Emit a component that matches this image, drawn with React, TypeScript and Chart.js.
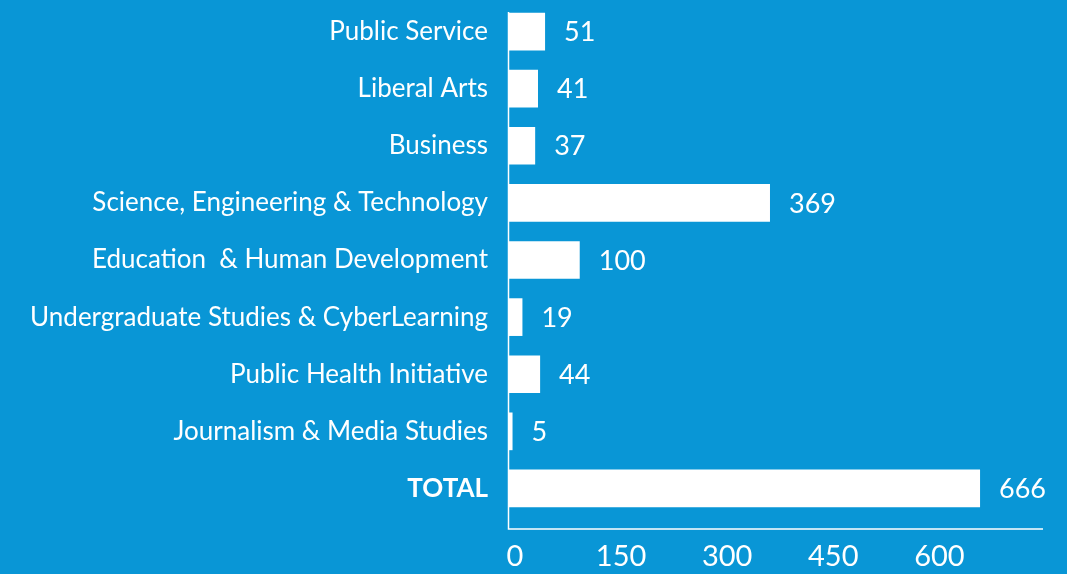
import { useEffect, useRef } from 'react';
import { Chart, registerables } from 'chart.js';

Chart.register(...registerables);

const categories = [
  'Public Service',
  'Liberal Arts',
  'Business',
  'Science, Engineering & Technology',
  'Education  & Human Development',
  'Undergraduate Studies & CyberLearning',
  'Public Health Initiative',
  'Journalism & Media Studies',
  'TOTAL',
];
const values = [51, 41, 37, 369, 100, 19, 44, 5, 666];
const xTickValues = [0, 150, 300, 450, 600];
const xMax = 755;

const BG = '#0996d6';
const FONT = 'Lato, "Open Sans", sans-serif';

const valueLabelPlugin = {
  id: 'valueLabels',
  afterDatasetsDraw(chart: any) {
    const { ctx } = chart;
    const meta = chart.getDatasetMeta(0);
    ctx.save();
    ctx.fillStyle = '#ffffff';
    ctx.font = `400 27px ${FONT}`;
    ctx.textAlign = 'left';
    ctx.textBaseline = 'middle';
    meta.data.forEach((bar: any, i: number) => {
      ctx.fillText(String(values[i]), bar.x + 19, bar.y + 1);
    });
    ctx.restore();
  },
};

const axisLinePlugin = {
  id: 'axisLines',
  afterDatasetsDraw(chart: any) {
    const { ctx, chartArea, scales } = chart;
    const x0 = scales.x.getPixelForValue(0) - 0.5;
    const bottom = chartArea.bottom + 12;
    ctx.save();
    ctx.strokeStyle = '#ffffff';
    ctx.lineWidth = 1.5;
    ctx.beginPath();
    ctx.moveTo(x0, chartArea.top + 9);
    ctx.lineTo(x0, bottom);
    ctx.lineTo(chartArea.right, bottom);
    ctx.stroke();
    ctx.restore();
  },
};

export default function App() {
  const canvasRef = useRef<HTMLCanvasElement | null>(null);

  useEffect(() => {
    if (!canvasRef.current) return;
    const chart = new Chart(canvasRef.current, {
      type: 'bar',
      data: {
        labels: categories,
        datasets: [
          {
            data: values,
            backgroundColor: '#ffffff',
            borderWidth: 0,
            categoryPercentage: 1,
            barPercentage: 0.66,
          },
        ],
      },
      options: {
        indexAxis: 'y',
        responsive: false,
        animation: false,
        layout: { padding: { top: 3, right: 24, left: 0, bottom: 0 } },
        plugins: {
          legend: { display: false },
          tooltip: { enabled: false },
        },
        scales: {
          x: {
            type: 'linear',
            min: 0,
            max: xMax,
            position: 'bottom',
            grid: { display: false, drawTicks: false },
            border: { display: false },
            afterBuildTicks: (s: any) => {
              s.ticks = xTickValues.map((v) => ({ value: v }));
            },
            afterFit: (s: any) => {
              s.height = 57;
            },
            ticks: {
              color: '#ffffff',
              font: { family: FONT, size: 29 },
              padding: 22,
              labelOffset: 6,
              maxRotation: 0,
              autoSkip: false,
            },
          },
          y: {
            grid: { display: false, drawTicks: false },
            border: { display: false },
            afterFit: (s: any) => {
              s.width = 509;
              s.paddingTop = 0;
              s.paddingBottom = 0;
            },
            ticks: {
              color: '#ffffff',
              padding: 21,
              autoSkip: false,
              font: (ctx: any) => ({
                family: FONT,
                size: 26,
                weight: ctx.index === categories.length - 1 ? 'bold' : 'normal',
              }),
            },
          },
        },
      },
      plugins: [valueLabelPlugin, axisLinePlugin],
    } as any);
    return () => chart.destroy();
  }, []);

  return (
    <div
      style={{
        position: 'fixed',
        left: 0,
        top: 0,
        width: 1067,
        height: 574,
        background: BG,
      }}
    >
      <canvas ref={canvasRef} width={1067} height={574} style={{ display: 'block' }} />
    </div>
  );
}
